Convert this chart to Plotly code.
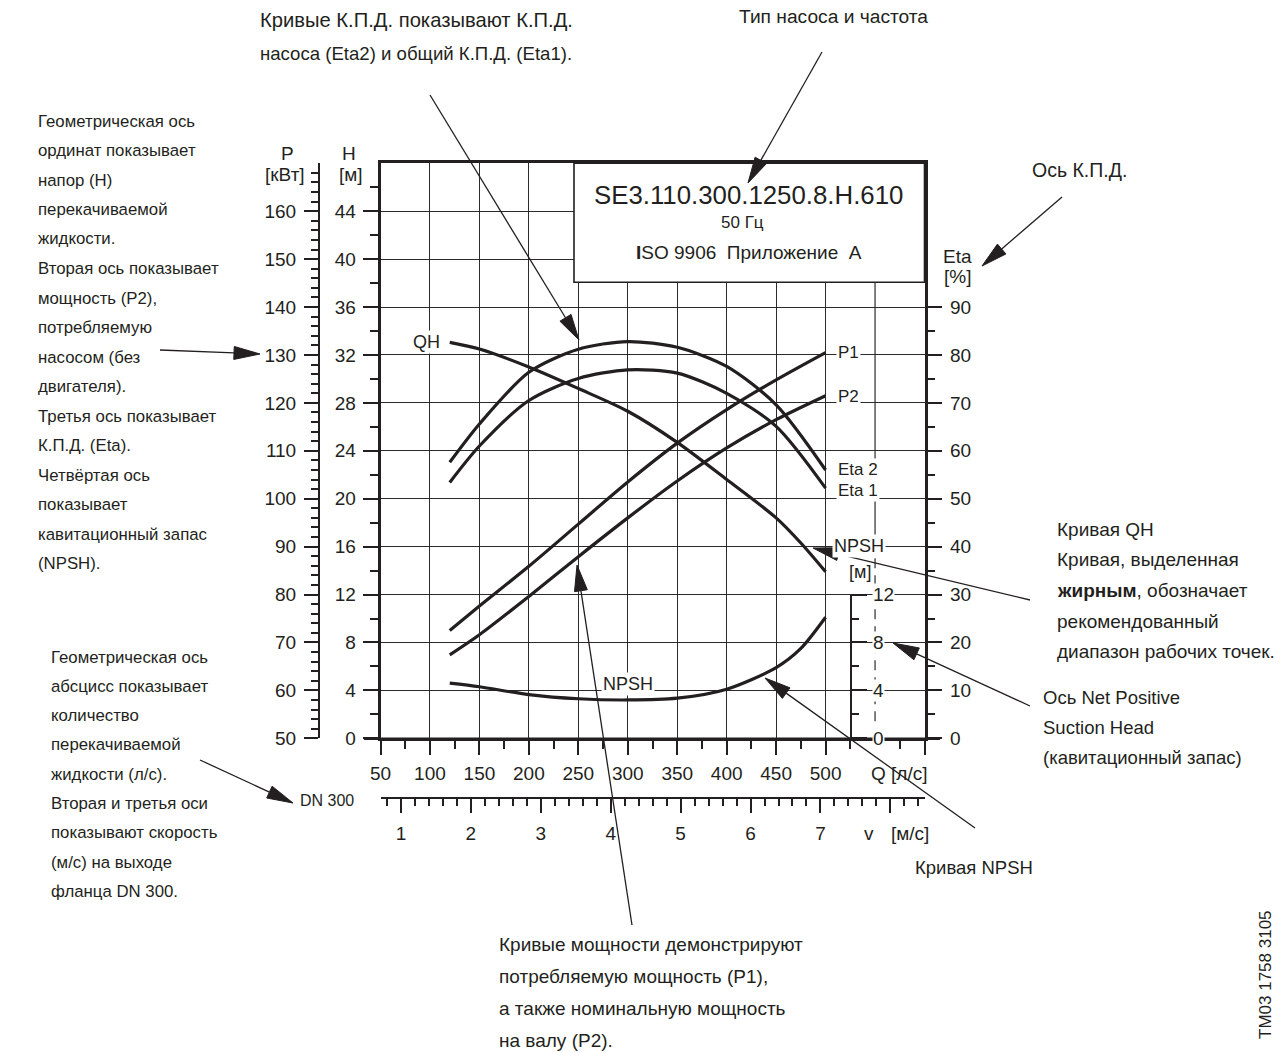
import math
import plotly.graph_objects as go

W, H = 1282, 1053

# ---------------- pump curves, SE3.110.300.1250.8.H.610, 50 Hz ----------------
q_qh = [120, 150, 200, 250, 300, 350, 400, 450, 475, 500]            # flow, l/s
h_qh = [33.05, 32.5, 31.0, 29.2, 27.3, 24.7, 21.6, 18.4, 16.3, 13.9]  # head, m

q_eta = [120, 150, 200, 250, 300, 350, 400, 450, 500]
eta2 = [57.6, 65.6, 76.4, 81.2, 82.8, 81.6, 77.6, 69.6, 56.0]   # pump efficiency, %
eta1 = [53.4, 61.0, 70.5, 75.1, 76.9, 76.2, 72.0, 65.1, 52.2]   # total efficiency, %

q_pow = [120, 150, 200, 250, 300, 350, 400, 450, 500]
p1 = [72.5, 77.6, 85.9, 94.7, 103.5, 111.6, 118.6, 124.8, 130.5]  # input power, kW
p2 = [67.4, 71.6, 79.6, 87.9, 96.0, 103.7, 110.6, 116.5, 121.5]   # shaft power, kW

q_npsh = [120, 150, 200, 250, 300, 350, 400, 450, 475, 500]
npsh = [4.6, 4.3, 3.65, 3.3, 3.2, 3.35, 4.1, 5.9, 7.5, 10.1]      # m

# ---------------- axis ticks ----------------
q_ticks = [50, 100, 150, 200, 250, 300, 350, 400, 450, 500, 600]
q_labels = ["50", "100", "150", "200", "250", "300", "350", "400", "450", "500", ""]
q_minor = [75, 125, 175, 225, 275, 325, 375, 425, 475, 525, 575]
h_ticks = [0, 4, 8, 12, 16, 20, 24, 28, 32, 36, 40, 44]
h_minor = [2, 6, 10, 14, 18, 22, 26, 30, 34, 38, 42, 46]
p_ticks = [50, 60, 70, 80, 90, 100, 110, 120, 130, 140, 150, 160]
p_minor = [v for v in range(52, 171, 2) if v % 10]
eta_ticks = [0, 10, 20, 30, 40, 50, 60, 70, 80, 90]
eta_minor = [5, 15, 25, 35, 45, 55, 65, 75, 85]
npsh_ticks = [0, 4, 8, 12]
npsh_minor = [2, 6, 10]
v_ticks = [1, 2, 3, 4, 5, 6, 7, 8]
v_labels = ["1", "2", "3", "4", "5", "6", "7", ""]
v_minor = [round(i * 0.2, 1) for i in range(4, 43) if i % 5]

# velocity in the DN 300 outlet flange: v = Q / A
FLANGE_AREA_LPS = 1000 * math.pi * 0.3 ** 2 / 4   # l/s per 1 m/s

INK = "#231f20"
GRID = "#2b2b2b"
FONT = "Liberation Sans, Arial, Helvetica, sans-serif"

# plot frame in pixels
PL, PR, PT, PB = 380.5, 924.5, 163.3, 738.3
PX_PER_M = (PB - PT) / 48.0


def fx(x):
    return x / W


def fy(y):
    return 1 - y / H


fig = go.Figure()

curve = dict(color=INK, width=3.2, shape="spline", smoothing=0.8)
fig.add_trace(go.Scatter(x=q_qh, y=h_qh, mode="lines", line=curve, yaxis="y"))
fig.add_trace(go.Scatter(x=q_eta, y=eta2, mode="lines", line=curve, yaxis="y3"))
fig.add_trace(go.Scatter(x=q_eta, y=eta1, mode="lines", line=curve, yaxis="y3"))
fig.add_trace(go.Scatter(x=q_pow, y=p1, mode="lines", line=curve, yaxis="y2"))
fig.add_trace(go.Scatter(x=q_pow, y=p2, mode="lines", line=curve, yaxis="y2"))
fig.add_trace(go.Scatter(x=q_npsh, y=npsh, mode="lines", line=curve, yaxis="y4"))
# carrier for the velocity scale
fig.add_trace(go.Scatter(x=[None], y=[None], xaxis="x2", yaxis="y", mode="lines"))

tickfont = dict(family=FONT, size=19, color=INK)
common = dict(ticks="outside", tickcolor=INK, tickwidth=1.5, linecolor=INK,
              tickfont=tickfont, zeroline=False, fixedrange=True,
              automargin=False)

fig.update_layout(
    width=W, height=H, autosize=False,
    margin=dict(l=0, r=0, t=0, b=0, pad=0, autoexpand=False),
    paper_bgcolor="white",
    plot_bgcolor="rgba(0,0,0,0)",
    showlegend=False,
    hovermode=False,
    xaxis=dict(domain=[fx(PL), fx(PR)], range=[50, 600], anchor="y",
               tickmode="array", tickvals=q_ticks, ticktext=q_labels, ticklen=14,
               minor=dict(tickvals=q_minor, ticks="outside", ticklen=8,
                          tickwidth=1.5, tickcolor=INK, showgrid=False),
               showgrid=True, gridcolor=GRID, gridwidth=1.2,
               showline=True, linewidth=2.5, mirror=True,
               ticklabelstandoff=2, **common),
    xaxis2=dict(overlaying="x", anchor="free", position=fy(798), side="bottom",
                range=[50 / FLANGE_AREA_LPS, 600 / FLANGE_AREA_LPS],
                tickmode="array", tickvals=v_ticks, ticktext=v_labels, ticklen=14,
                minor=dict(tickvals=v_minor, ticks="outside", ticklen=7,
                           tickwidth=1.5, tickcolor=INK, showgrid=False),
                showgrid=False, showline=True, linewidth=2,
                ticklabelstandoff=4, **common),
    yaxis=dict(domain=[fy(PB), fy(PT)], range=[0, 48], anchor="x",
               tickmode="array", tickvals=h_ticks, ticklen=15,
               minor=dict(tickvals=h_minor, ticks="outside", ticklen=8,
                          tickwidth=1.5, tickcolor=INK, showgrid=False),
               showgrid=True, gridcolor=GRID, gridwidth=1.2,
               showline=True, linewidth=2.5, mirror=True,
               ticklabelstandoff=3, **common),
    yaxis2=dict(overlaying="y", anchor="free", position=fx(319), side="left",
                range=[50, 170], tickmode="array", tickvals=p_ticks, ticklen=14,
                minor=dict(tickvals=p_minor, ticks="outside", ticklen=7,
                           tickwidth=1.5, tickcolor=INK, showgrid=False),
                showgrid=False, showline=True, linewidth=2,
                ticklabelstandoff=4, **common),
    yaxis3=dict(overlaying="y", anchor="x", side="right",
                range=[0, 120], tickmode="array", tickvals=eta_ticks, ticklen=15,
                minor=dict(tickvals=eta_minor, ticks="outside", ticklen=8,
                           tickwidth=1.5, tickcolor=INK, showgrid=False),
                showgrid=False, showline=True, linewidth=2.5,
                ticklabelstandoff=4, **common),
    yaxis4=dict(domain=[fy(PB), fy(PB - 12 * PX_PER_M)], anchor="free",
                position=fx(851), side="right", range=[0, 12],
                tickmode="array", tickvals=npsh_ticks, ticklen=15,
                showticklabels=False,
                minor=dict(tickvals=npsh_minor, ticks="outside", ticklen=7,
                           tickwidth=1.5, tickcolor=INK, showgrid=False),
                showgrid=False, showline=True, linewidth=2, **common),
)

ann = []
shapes = []


def label(text, x, y, size=19, xanchor="center", bg=None, **kw):
    d = dict(text=text, x=fx(x), y=fy(y), xref="paper", yref="paper",
             showarrow=False, xanchor=xanchor, yanchor="middle",
             font=dict(family=FONT, size=size, color=INK))
    if bg:
        d.update(bgcolor=bg, borderpad=1)
    d.update(kw)
    ann.append(d)


def block(lines, x, y0, dy, size):
    sizes = size if isinstance(size, list) else [size] * len(lines)
    for i, (t, s) in enumerate(zip(lines, sizes)):
        label(t, x, y0 + i * dy, size=s, xanchor="left")


def arrow(tail, tip, length=26, half=6.5):
    (tx, ty), (hx, hy) = tail, tip
    dx, dy = hx - tx, hy - ty
    n = math.hypot(dx, dy)
    ux, uy = dx / n, dy / n
    bx, by = hx - ux * length, hy - uy * length
    px, py = -uy * half, ux * half
    shapes.append(dict(type="line", xref="paper", yref="paper",
                       x0=fx(tx), y0=fy(ty), x1=fx(bx), y1=fy(by),
                       line=dict(color=INK, width=1.3)))
    path = "M{},{} L{},{} L{},{} Z".format(
        fx(hx), fy(hy), fx(bx + px), fy(by + py), fx(bx - px), fy(by - py))
    shapes.append(dict(type="path", xref="paper", yref="paper", path=path,
                       fillcolor=INK, line=dict(color=INK, width=1)))


# grid line at 550 l/s: solid above the NPSH scale, dashed along it
shapes.append(dict(type="line", xref="x", yref="y", x0=550, x1=550, y0=16, y1=48,
                   line=dict(color=GRID, width=1.2)))
shapes.append(dict(type="line", xref="x", yref="y", x0=550, x1=550, y0=0, y1=16,
                   line=dict(color=GRID, width=1.2, dash="10px,7px")))
# Q baseline runs a little past the frame
shapes.append(dict(type="line", xref="paper", yref="paper",
                   x0=fx(364), x1=fx(940), y0=fy(PB + 0.5), y1=fy(PB + 0.5),
                   line=dict(color=INK, width=2.5)))
# title box
shapes.append(dict(type="rect", xref="paper", yref="paper", layer="above",
                   x0=fx(574), x1=fx(PR), y0=fy(282.3), y1=fy(PT),
                   fillcolor="white", line=dict(color=INK, width=1.6)))

# axis titles
label("P", 287, 153)
label("[кВт]", 285, 175)
label("H", 349, 153)
label("[м]", 351, 175)
label("Eta", 958, 256)
label("[%]", 957, 276)
label("Q [л/с]", 869, 773, xanchor="left")
label("v", 869, 833)
label("[м/с]", 910, 833)
label("DN 300", 327, 800, size=16)

# title box text
label("SE3.110.300.1250.8.H.610", 748, 195, size=25.8)
label("50 Гц", 742, 222, size=17)
label("<b>I</b>SO 9906\u00a0\u00a0Приложение\u00a0\u00a0A", 749, 252, size=19)

# curve labels
label("QH", 426, 342, size=18, bg="white")
label("P1", 836, 353, size=17, xanchor="left", bg="white")
label("P2", 836, 396, size=17, xanchor="left", bg="white")
label("Eta 2", 836, 469, size=17, xanchor="left", bg="white")
label("Eta 1", 836, 490, size=17, xanchor="left", bg="white")
label("NPSH", 628, 684, size=18, bg="white")
label("NPSH", 859, 546, size=18, bg="white")
label("[м]", 860, 572, size=18)
for v in npsh_ticks:
    ann.append(dict(text=str(v), x=fx(872), y=v, xref="paper", yref="y4",
                    showarrow=False, xanchor="left", yanchor="middle",
                    bgcolor="white", borderpad=0,
                    font=dict(family=FONT, size=19, color=INK)))

# explanatory notes
block(["Кривые К.П.Д. показывают К.П.Д.",
       "насоса (Eta2) и общий К.П.Д. (Eta1)."], 258, 20, 33, [20.2, 18.6])
block(["Тип насоса и частота"], 737, 16, 30, 19.2)
block(["Ось К.П.Д."], 1030, 170, 30, 19.5)
block(["Геометрическая ось", "ординат показывает", "напор (Н)", "перекачиваемой",
       "жидкости.", "Вторая ось показывает", "мощность (Р2),", "потребляемую",
       "насосом (без", "двигателя).", "Третья ось показывает", "К.П.Д. (Eta).",
       "Четвёртая ось", "показывает", "кавитационный запас", "(NPSH)."],
      36, 121, 29.5, 16.8)
block(["Геометрическая ось", "абсцисс показывает", "количество", "перекачиваемой",
       "жидкости (л/с).", "Вторая и третья оси", "показывают скорость",
       "(м/с) на выходе", "фланца DN 300."], 49, 657, 29.3, 16.8)
block(["Кривая QH", "Кривая, выделенная", "<b>жирным</b>, обозначает",
       "рекомендованный", "диапазон рабочих точек."], 1055, 529, 30.7, 19)
block(["Ось Net Positive", "Suction Head", "(кавитационный запас)"],
      1041, 697, 30, 18.5)
block(["Кривая NPSH"], 913, 868, 30, 18.5)
block(["Кривые мощности демонстрируют", "потребляемую мощность (Р1),",
       "а также номинальную мощность", "на валу (Р2)."], 497, 944, 32, 19)
label("TM03 1758 3105", 1265, 975, size=17, textangle=-90)

# pointer arrows
arrow((430, 95), (579, 340))
arrow((822, 52), (748, 183))
arrow((1062, 197), (982, 266))
arrow((160, 350), (260, 354))
arrow((200, 760), (293, 803))
arrow((1030, 600), (813, 548))
arrow((1030, 706), (893, 643))
arrow((975, 828), (765, 678))
arrow((632, 925), (577, 565))

fig.update_layout(annotations=ann, shapes=shapes)
# the page holds nothing but the figure
fig.write_html("out.html",
               post_script="document.body.style.margin='0';"
                           "document.body.style.overflow='hidden';")
